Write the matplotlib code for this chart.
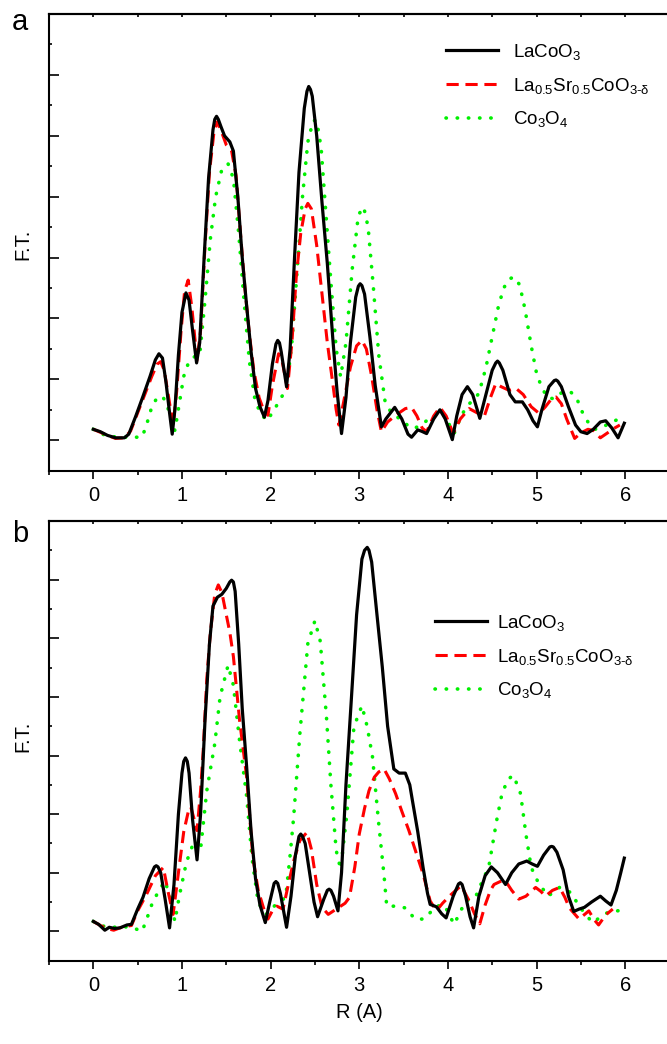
import matplotlib
matplotlib.use("Agg")
import matplotlib.pyplot as plt
from matplotlib.ticker import MultipleLocator, NullFormatter
import numpy as np

plt.rcParams['font.family'] = ['Liberation Sans', 'DejaVu Sans']
plt.rcParams['mathtext.fontset'] = 'custom'
plt.rcParams['mathtext.rm'] = 'Liberation Sans'
plt.rcParams['mathtext.it'] = 'Liberation Sans:italic'
plt.rcParams['mathtext.bf'] = 'Liberation Sans:bold'

labels = [r'$\mathregular{LaCoO_3}$',
          r'$\mathregular{La_{0.5}Sr_{0.5}CoO_{3\text{-}δ}}$',
          r'$\mathregular{Co_3O_4}$']

# ---------------- panel a ----------------
a_black_r = [0.00,0.08,0.16,0.25,0.35,0.40,0.48,0.56,0.64,0.70,0.74,0.78,0.82,0.86,0.89,0.92,0.96,1.00,1.045,1.08,1.12,1.165,1.20,1.25,1.30,1.35,1.37,1.39,1.41,1.44,1.48,1.54,1.58,1.63,1.68,1.73,1.78,1.83,1.88,1.93,1.97,2.02,2.06,2.08,2.10,2.12,2.18,2.22,2.27,2.32,2.38,2.41,2.43,2.45,2.47,2.52,2.58,2.64,2.70,2.75,2.80,2.85,2.90,2.96,2.99,3.01,3.03,3.06,3.12,3.18,3.25,3.30,3.40,3.48,3.55,3.59,3.66,3.70,3.76,3.84,3.91,3.97,4.05,4.10,4.16,4.22,4.28,4.36,4.42,4.50,4.54,4.56,4.58,4.62,4.70,4.76,4.84,4.90,4.96,5.01,5.06,5.14,5.20,5.22,5.24,5.28,5.36,5.44,5.50,5.57,5.64,5.72,5.78,5.85,5.92,5.99]
a_black_y = [0.18,0.14,0.08,0.04,0.04,0.10,0.40,0.72,1.05,1.32,1.42,1.35,0.95,0.45,0.10,0.50,1.40,2.10,2.42,2.30,1.80,1.27,1.60,3.00,4.30,5.10,5.27,5.32,5.27,5.15,5.00,4.90,4.75,4.00,3.00,2.20,1.45,0.85,0.55,0.38,0.65,1.25,1.58,1.64,1.60,1.45,0.88,1.50,3.00,4.40,5.45,5.73,5.81,5.76,5.65,5.00,3.90,2.90,1.70,0.80,0.11,0.70,1.60,2.35,2.53,2.57,2.54,2.40,1.70,0.90,0.22,0.35,0.54,0.35,0.10,0.05,0.17,0.15,0.11,0.35,0.50,0.35,0.01,0.40,0.75,0.88,0.75,0.36,0.70,1.15,1.27,1.30,1.27,1.15,0.75,0.63,0.63,0.50,0.32,0.22,0.50,0.88,0.98,0.99,0.97,0.88,0.55,0.25,0.14,0.11,0.18,0.30,0.32,0.20,0.04,0.28]

a_red_r = [0.00,0.08,0.16,0.25,0.35,0.42,0.50,0.58,0.66,0.72,0.76,0.80,0.85,0.90,0.94,0.99,1.03,1.07,1.11,1.17,1.21,1.26,1.31,1.36,1.40,1.45,1.50,1.56,1.61,1.66,1.71,1.76,1.81,1.87,1.92,1.97,2.02,2.09,2.13,2.19,2.24,2.29,2.34,2.39,2.42,2.46,2.52,2.58,2.64,2.70,2.74,2.77,2.82,2.90,2.97,3.03,3.08,3.14,3.20,3.25,3.32,3.42,3.52,3.59,3.65,3.71,3.76,3.84,3.91,3.98,4.06,4.14,4.24,4.33,4.41,4.48,4.54,4.60,4.69,4.77,4.85,4.94,5.03,5.10,5.18,5.22,5.28,5.34,5.43,5.50,5.58,5.64,5.72,5.80,5.88,5.94]
a_red_y = [0.18,0.13,0.08,0.03,0.04,0.15,0.45,0.75,1.05,1.25,1.29,1.15,0.70,0.25,0.80,1.80,2.45,2.63,2.20,1.31,1.80,3.20,4.40,5.05,5.23,5.05,4.85,4.75,4.35,3.40,2.50,1.75,1.15,0.70,0.50,0.41,0.90,1.42,1.30,0.85,1.60,2.70,3.40,3.80,3.89,3.80,3.20,2.40,1.60,0.95,0.50,0.25,0.60,1.20,1.55,1.64,1.50,1.05,0.50,0.14,0.30,0.42,0.52,0.54,0.40,0.20,0.14,0.40,0.54,0.40,0.11,0.35,0.52,0.45,0.39,0.70,0.93,0.88,0.82,0.85,0.75,0.55,0.44,0.55,0.70,0.71,0.60,0.35,0.03,0.12,0.18,0.16,0.04,0.12,0.20,0.25]

a_green_r = [0.00,0.10,0.20,0.30,0.42,0.55,0.60,0.66,0.72,0.78,0.83,0.88,0.92,0.97,1.02,1.08,1.14,1.20,1.26,1.32,1.38,1.45,1.52,1.58,1.64,1.70,1.76,1.82,1.88,1.96,2.04,2.12,2.18,2.24,2.30,2.36,2.42,2.48,2.52,2.57,2.62,2.68,2.74,2.79,2.85,2.92,2.99,3.05,3.10,3.16,3.22,3.29,3.36,3.46,3.55,3.62,3.72,3.82,3.93,4.00,4.07,4.15,4.22,4.30,4.35,4.43,4.50,4.57,4.63,4.69,4.75,4.81,4.87,4.94,5.00,5.05,5.12,5.20,5.29,5.38,5.45,5.52,5.60,5.66,5.75,5.85,5.98]
a_green_y = [0.18,0.10,0.06,0.05,0.05,0.05,0.25,0.55,0.70,0.72,0.60,0.30,0.16,0.60,1.05,1.30,1.37,1.40,2.30,3.30,4.00,4.45,4.54,4.30,3.40,2.30,1.30,0.70,0.45,0.32,0.50,0.70,0.85,1.60,2.80,4.00,4.90,5.25,5.25,4.80,3.80,2.60,1.50,1.04,1.60,2.80,3.70,3.83,3.50,2.50,1.40,0.65,0.45,0.35,0.24,0.19,0.28,0.38,0.47,0.30,0.11,0.40,0.57,0.68,0.77,1.20,1.70,2.20,2.50,2.65,2.68,2.55,2.15,1.55,1.10,0.90,0.70,0.68,0.79,0.80,0.70,0.45,0.25,0.18,0.22,0.30,0.38]

# ---------------- panel b ----------------
b_black_r = [0.00,0.06,0.13,0.18,0.24,0.30,0.38,0.43,0.50,0.56,0.63,0.69,0.71,0.73,0.76,0.81,0.86,0.91,0.96,1.00,1.02,1.04,1.06,1.08,1.12,1.17,1.21,1.26,1.31,1.35,1.40,1.45,1.50,1.54,1.56,1.58,1.60,1.64,1.68,1.73,1.78,1.83,1.88,1.94,1.99,2.04,2.06,2.08,2.11,2.18,2.23,2.28,2.32,2.34,2.36,2.39,2.44,2.49,2.53,2.60,2.64,2.66,2.68,2.71,2.76,2.80,2.85,2.91,2.97,3.03,3.06,3.09,3.11,3.14,3.20,3.26,3.32,3.39,3.45,3.52,3.57,3.60,3.66,3.72,3.77,3.80,3.87,3.93,3.98,4.06,4.12,4.14,4.16,4.20,4.25,4.29,4.35,4.42,4.49,4.56,4.65,4.72,4.80,4.89,4.95,5.01,5.08,5.15,5.17,5.19,5.23,5.30,5.36,5.42,5.48,5.54,5.62,5.72,5.78,5.84,5.90,5.95,5.99]
b_black_y = [0.17,0.12,0.02,0.07,0.05,0.06,0.11,0.12,0.38,0.58,0.90,1.10,1.12,1.10,1.00,0.55,0.06,0.80,2.00,2.70,2.90,2.96,2.90,2.70,1.90,1.22,2.00,3.60,4.90,5.55,5.70,5.75,5.85,5.96,5.99,5.96,5.80,4.90,3.80,2.80,1.70,0.90,0.45,0.15,0.50,0.82,0.85,0.82,0.65,0.07,0.60,1.30,1.62,1.66,1.62,1.50,1.00,0.50,0.25,0.55,0.70,0.72,0.70,0.60,0.35,1.00,2.50,3.94,5.40,6.35,6.50,6.55,6.50,6.30,5.40,4.51,3.50,2.77,2.70,2.70,2.50,2.23,1.70,1.09,0.65,0.46,0.42,0.30,0.23,0.60,0.81,0.83,0.80,0.60,0.25,0.06,0.60,0.95,1.10,1.00,0.80,1.00,1.15,1.20,1.15,1.11,1.30,1.44,1.45,1.44,1.35,1.05,0.60,0.34,0.38,0.41,0.50,0.60,0.52,0.45,0.70,1.00,1.25]

b_red_r = [0.00,0.08,0.15,0.23,0.30,0.38,0.43,0.50,0.60,0.70,0.79,0.84,0.90,0.96,1.02,1.08,1.10,1.14,1.17,1.21,1.24,1.28,1.32,1.37,1.41,1.45,1.50,1.54,1.58,1.65,1.73,1.80,1.86,1.92,1.97,2.03,2.07,2.14,2.20,2.26,2.33,2.41,2.46,2.52,2.58,2.65,2.72,2.78,2.84,2.89,2.95,3.00,3.06,3.11,3.17,3.22,3.28,3.34,3.41,3.48,3.56,3.64,3.72,3.80,3.87,3.94,4.03,4.15,4.24,4.30,4.36,4.42,4.48,4.52,4.59,4.65,4.72,4.80,4.88,4.99,5.05,5.10,5.18,5.26,5.32,5.37,5.48,5.59,5.65,5.70,5.78,5.86]
b_red_y = [0.17,0.10,0.05,0.02,0.06,0.09,0.10,0.35,0.63,0.95,1.09,0.70,0.29,1.00,1.70,2.10,2.12,1.90,1.72,2.40,3.09,4.30,5.09,5.75,5.91,5.78,5.40,5.10,4.69,3.60,2.63,1.26,0.70,0.40,0.21,0.38,0.43,0.38,0.80,1.20,1.55,1.69,1.40,0.80,0.41,0.29,0.36,0.42,0.48,0.58,1.10,1.66,2.10,2.40,2.63,2.72,2.77,2.60,2.35,2.05,1.72,1.35,0.98,0.52,0.35,0.48,0.62,0.78,0.52,0.30,0.13,0.45,0.70,0.80,0.85,0.86,0.70,0.55,0.60,0.75,0.68,0.60,0.70,0.75,0.58,0.40,0.21,0.35,0.20,0.11,0.28,0.38]

b_green_r = [0.00,0.08,0.15,0.25,0.35,0.45,0.55,0.60,0.66,0.74,0.81,0.86,0.92,0.97,1.05,1.14,1.21,1.28,1.37,1.43,1.52,1.58,1.65,1.73,1.79,1.86,1.95,2.06,2.17,2.22,2.26,2.33,2.42,2.50,2.56,2.63,2.68,2.74,2.79,2.86,2.94,3.03,3.09,3.15,3.22,3.28,3.31,3.43,3.52,3.63,3.73,3.87,3.96,4.07,4.20,4.31,4.40,4.46,4.55,4.61,4.68,4.74,4.82,4.88,4.94,5.02,5.13,5.26,5.39,5.48,5.63,5.80,5.95]
b_green_y = [0.17,0.10,0.08,0.07,0.08,0.06,0.00,0.20,0.46,0.70,0.86,0.60,0.17,0.60,1.18,1.55,1.40,2.40,3.20,4.00,4.54,4.20,3.25,2.30,1.25,0.49,0.29,0.46,0.58,1.30,1.95,3.37,4.91,5.30,4.95,3.66,2.50,1.38,1.06,2.00,3.49,3.85,3.49,2.97,1.83,0.95,0.43,0.43,0.40,0.21,0.21,0.43,0.45,0.12,0.52,0.58,0.90,1.09,1.89,2.35,2.60,2.66,2.35,1.66,1.09,0.83,0.60,0.75,0.66,0.43,0.15,0.32,0.36]

x_ticks = [0, 1, 2, 3, 4, 5, 6]

fig = plt.figure(figsize=(6.67, 10.44), dpi=100)
W, H = 667, 1044

def make_ax(left, top, right, bottom):
    return fig.add_axes([left / W, 1 - bottom / H, (right - left) / W, (bottom - top) / H])

ax_a = make_ax(49, 14, 669.5, 470.7)
ax_b = make_ax(49, 521, 669.5, 960.7)

panels = [
    (ax_a, (a_black_r, a_black_y), (a_red_r, a_red_y), (a_green_r, a_green_y),
     'a', 30, 244, (446, 42), 0.78),
    (ax_b, (b_black_r, b_black_y), (b_red_r, b_red_y), (b_green_r, b_green_y),
     'b', 542, 736, (435, 613), 0.56),
]

for ax, blk, red, grn, tag, tag_y, ft_y, legpos, htp in panels:
    l1, = ax.plot(blk[0], blk[1], color='black', lw=2.3, ls='-', zorder=4,
                  solid_joinstyle='round')
    l2, = ax.plot(red[0], red[1], color='#ff0000', lw=2.2, ls=(0, (4.0, 2.2)), zorder=3)
    l3, = ax.plot(grn[0], grn[1], color='#00f000', lw=2.6, ls=(0, (0.1, 3.0)), zorder=2,
                  dash_capstyle='round')
    ax.set_xlim(-0.5, 6.5)
    ax.set_ylim(-0.5, 7.0)
    ax.xaxis.set_minor_locator(MultipleLocator(0.5))
    ax.yaxis.set_major_locator(MultipleLocator(1))
    ax.yaxis.set_minor_locator(MultipleLocator(0.5))
    ax.set_xticks(x_ticks)
    ax.yaxis.set_major_formatter(NullFormatter())
    ax.tick_params(axis='x', which='major', direction='out', length=5.8, width=1.2,
                   labelsize=14.5, pad=5.0, top=False)
    ax.tick_params(axis='x', which='minor', direction='out', length=2.8, width=1.2, top=False)
    ax.tick_params(axis='y', which='major', direction='in', length=7, width=1.2, right=False)
    ax.tick_params(axis='y', which='minor', direction='in', length=2.5, width=1.2, right=False)
    for s in ax.spines.values():
        s.set_linewidth(1.5)
    fig.text(22.5 / W, 1 - ft_y / H, 'F.T.', fontsize=14.5, rotation=90,
             ha='center', va='center')
    fig.text(12 / W, 1 - tag_y / H, tag, fontsize=21, ha='left', va='baseline')
    fig.legend([l1, l2, l3], labels, loc='upper left',
               bbox_to_anchor=(legpos[0] / W, 1 - legpos[1] / H),
               frameon=False, fontsize=13.5, handlelength=2.77, handletextpad=htp,
               labelspacing=0.73, borderaxespad=0, borderpad=0)
    sec = ax.secondary_xaxis('top')
    sec.set_xticks([i * 0.5 - 0.5 for i in range(15)])
    sec.tick_params(direction='in', length=2.5, width=1.2, labeltop=False)
    sec.spines['top'].set_linewidth(1.5)

fig.text(359 / W, 1 - 1013 / H, 'R (A)', fontsize=14.5, ha='center', va='center')

fig.savefig('out.png', dpi=100)
